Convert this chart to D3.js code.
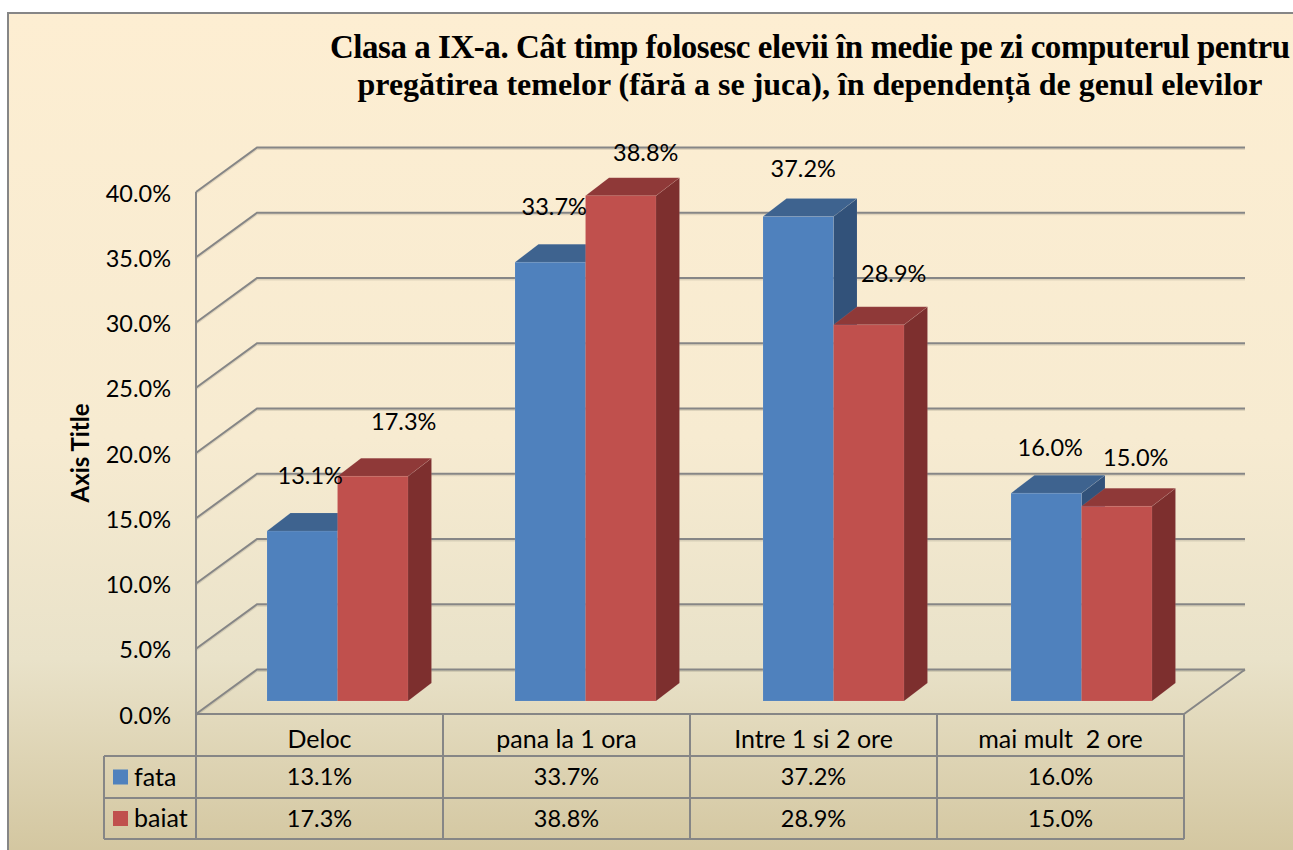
<!DOCTYPE html>
<html>
<head>
<meta charset="utf-8">
<style>
  html, body { margin: 0; padding: 0; background: #fff; overflow: hidden; }
  svg { display: block; }
  text { font-family: Lato, "Open Sans", sans-serif; font-size: 23.5px; fill: #000; white-space: pre; }
  .title { font-family: "Liberation Serif", serif; font-weight: bold; text-anchor: middle; }
  .axis-title { font-weight: bold; font-size: 24px; text-anchor: middle; }
  .cat, .legend-name { font-size: 25px; }
  .grid { fill: none; stroke: #868686; stroke-width: 2px; }
  .grid-shadow { fill: none; stroke: #000; stroke-opacity: 0.1; stroke-width: 2px; }
  .face { stroke: #fff; stroke-opacity: 0.08; stroke-width: 1px; }
</style>
</head>
<body>
<svg id="chart" width="1293" height="850"></svg>
<script src="https://d3js.org/d3.v7.min.js"></script>
<script>
var categories = ["Deloc", "pana la 1 ora", "Intre 1 si 2 ore", "mai mult  2 ore"];
var seriesNames = ["fata", "baiat"];
var fata = [13.1, 33.7, 37.2, 16.0];
var baiat = [17.3, 38.8, 28.9, 15.0];
var yTicks = [0, 5, 10, 15, 20, 25, 30, 35, 40];
var titleLines = [
  "Clasa a IX-a. Cât timp folosesc elevii în medie pe zi computerul pentru",
  "pregătirea temelor (fără a se juca), în dependență de genul elevilor"
];

var svg = d3.select("#chart");
var fmt = function(d) { return d.toFixed(1) + "%"; };

// plot box, front plane of the fake 3d
var left = 196, right = 1184, y0 = 714, y40 = 192;
var depthX = 61, depthY = -44.5;       // wall depth
var barDX = 23.5, barDY = -18;         // bar depth
var barBase = 702, barBottom = 701;    // bars stand a bit behind the front edge
var rowY = [714, 756, 798, 839], legendLeft = 104;

var y = d3.scaleLinear().domain([0, 40]).range([y0, y40]);
var x = d3.scaleBand().domain(categories).range([left, right]);
// bars sit further back than the table, so their step is a bit wider
var xBars = d3.scaleBand().domain(categories).range([left, left + 248 * categories.length]);
var xSub = d3.scaleBand().domain(seriesNames).range([71, 212]);

var colors = {
  fata: { front: "#4f81bd", side: "#32527a", top: "#3e638f" },
  baiat: { front: "#c0504d", side: "#7d2f2e", top: "#8f3938" }
};

// data labels were dragged by hand in the original, so each has its own nudge
var labelNudge = {
  fata: [[8, -55], [4, -55], [5, -48], [4, -45]],
  baiat: [[31, -54], [25, -43], [25, -51], [19, -48]]
};

// background
var defs = svg.append("defs");
var grad = defs.append("linearGradient").attr("id", "bg")
  .attr("x1", 0).attr("y1", 0).attr("x2", 0).attr("y2", 1);
[[0, "#fdeed2"], [0.5, "#f7ebd1"], [0.76, "#e9e2c9"], [1, "#d2c59e"]].forEach(function(s) {
  grad.append("stop").attr("offset", s[0]).attr("stop-color", s[1]);
});
svg.append("rect")
  .attr("x", 8).attr("y", 13).attr("width", 1300).attr("height", 850)
  .attr("fill", "url(#bg)").attr("stroke", "#868686").attr("stroke-width", 2);

// title, the two lines do not share a size in the original
var titleSizes = [33, 32];
var titleWidths = [960, 905];
svg.selectAll(".title").data(titleLines).enter().append("text")
  .attr("class", "title")
  .attr("x", 810)
  .attr("y", function(d, i) { return 58 + i * 37; })
  .style("font-size", function(d, i) { return titleSizes[i] + "px"; })
  .attr("textLength", function(d, i) { return titleWidths[i]; })
  .attr("lengthAdjust", "spacing")
  .text(function(d) { return d; });

// gridlines, front edge -> back wall -> right
function gridPath(t) {
  return d3.line()([
    [left, y(t)],
    [left + depthX, y(t) + depthY],
    [right + depthX, y(t) + depthY]
  ]);
}
svg.append("g").selectAll("path").data(yTicks).enter().append("path")
  .attr("class", "grid-shadow")
  .attr("transform", "translate(0,1.5)")
  .attr("d", gridPath);
svg.append("g").selectAll("path").data(yTicks).enter().append("path")
  .attr("class", "grid")
  .attr("d", gridPath);

// floor front and right edge
svg.append("path").attr("class", "grid")
  .attr("d", d3.line()([[left, y0], [right, y0], [right + depthX, y0 + depthY]]));

// left wall edge, runs on through the table
svg.append("line").attr("class", "grid")
  .attr("x1", left).attr("x2", left).attr("y1", y40).attr("y2", rowY[3]);

// value axis, labels only
var yAxis = svg.append("g")
  .attr("transform", "translate(" + left + ",1.5)")
  .call(d3.axisLeft(y).tickValues(yTicks).tickFormat(fmt).tickSize(0).tickPadding(25));
yAxis.select(".domain").remove();
yAxis.attr("font-family", null).attr("font-size", null);

svg.append("text").attr("class", "axis-title")
  .attr("transform", "translate(89,453) rotate(-90)")
  .text("Axis Title");

// bars
var barHeight = function(v) { return y0 - y(v); };
var series = [{ name: "fata", values: fata }, { name: "baiat", values: baiat }];

categories.forEach(function(cat, ci) {
  series.forEach(function(s) {
    var v = s.values[ci], c = colors[s.name];
    var bx = xBars(cat) + xSub(s.name), bw = xSub.bandwidth();
    var top = barBase - barHeight(v);
    var g = svg.append("g");
    g.append("path").attr("class", "face").attr("fill", c.side).attr("d", d3.line()([
      [bx + bw, top], [bx + bw + barDX, top + barDY],
      [bx + bw + barDX, barBottom + barDY], [bx + bw, barBottom]
    ]));
    g.append("path").attr("class", "face").attr("fill", c.top).attr("d", d3.line()([
      [bx, top], [bx + barDX, top + barDY],
      [bx + bw + barDX, top + barDY], [bx + bw, top]
    ]));
    g.append("rect").attr("class", "face").attr("fill", c.front)
      .attr("x", bx).attr("y", top).attr("width", bw).attr("height", barBottom - top);
  });
});

// data labels on top of the bars
series.forEach(function(s) {
  svg.append("g").selectAll("text").data(s.values).enter().append("text")
    .attr("text-anchor", "middle")
    .attr("dy", "0.35em")
    .attr("x", function(d, i) {
      return xBars(categories[i]) + xSub(s.name) + xSub.bandwidth() / 2 + labelNudge[s.name][i][0];
    })
    .attr("y", function(d, i) {
      return barBase - barHeight(d) + labelNudge[s.name][i][1];
    })
    .text(fmt);
});

// data table
rowY.slice(1).forEach(function(ry) {
  svg.append("line").attr("class", "grid")
    .attr("x1", legendLeft).attr("x2", right).attr("y1", ry).attr("y2", ry);
});
svg.append("line").attr("class", "grid")
  .attr("x1", legendLeft).attr("x2", legendLeft).attr("y1", rowY[1]).attr("y2", rowY[3]);
categories.forEach(function(cat) {
  svg.append("line").attr("class", "grid")
    .attr("x1", x(cat) + x.bandwidth()).attr("x2", x(cat) + x.bandwidth())
    .attr("y1", rowY[0]).attr("y2", rowY[3]);
  svg.append("text").attr("class", "cat").attr("text-anchor", "middle").attr("dy", "0.35em")
    .attr("x", x(cat) + x.bandwidth() / 2)
    .attr("y", (rowY[0] + rowY[1]) / 2 + 4)
    .text(cat);
});
series.forEach(function(s, si) {
  var mid = (rowY[si + 1] + rowY[si + 2]) / 2;
  svg.append("rect")
    .attr("x", 113).attr("y", mid - 7.5).attr("width", 15).attr("height", 15)
    .attr("fill", colors[s.name].front);
  svg.append("text").attr("class", "legend-name").attr("x", 134).attr("y", mid).attr("dy", "0.35em").text(s.name);
  svg.append("g").selectAll("text").data(s.values).enter().append("text")
    .attr("text-anchor", "middle").attr("dy", "0.35em")
    .attr("x", function(d, i) { return x(categories[i]) + x.bandwidth() / 2; })
    .attr("y", mid)
    .text(fmt);
});
</script>
</body>
</html>
